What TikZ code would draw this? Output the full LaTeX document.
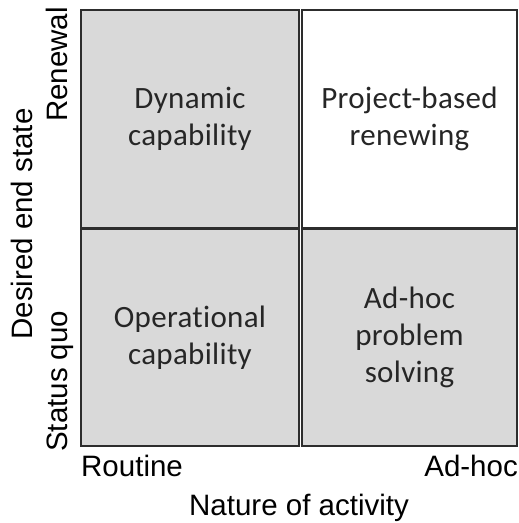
\documentclass[tikz,border=0pt]{standalone}
\usepackage{fontspec}
\setmainfont[Ligatures=NoCommon,LetterSpace=1]{Carlito}
\newfontfamily\axisfont{Liberation Sans}
\usepackage{xcolor}
\definecolor{ColFill}{RGB}{217,217,217}
\definecolor{ColLine}{RGB}{45,45,45}
\definecolor{ColText}{RGB}{38,38,38}
\usetikzlibrary{positioning}
\tikzstyle{Cell}=[draw=ColLine,fill=ColFill,line width=1.6pt,inner sep=0pt,
align=center,text=ColText,font=\fontsize{31}{37}\selectfont]
\tikzstyle{CellBlank}=[Cell,fill=white]
\tikzstyle{Axis}=[inner sep=0pt,font=\axisfont\fontsize{29.5}{35}\selectfont]

\begin{document}
\begin{tikzpicture}[x=1pt,y=-1pt]
        \useasboundingbox(0,0)rectangle(519,523);
        \node[Cell,minimum width=218pt,minimum height=218pt](dyn)at(190,119)
            {Dynamic\\capability};
        \node[CellBlank,minimum width=215pt,minimum height=218pt](proj)at(409.5,119)
            {Project-based\\renewing};
        \node[Cell,minimum width=218pt,minimum height=217pt](oper)at(190,337.5)
            {Operational\\capability};
        \node[Cell,minimum width=215pt,minimum height=217pt](adhoc)at(409.5,337.5)
            {Ad-hoc\\problem\\solving};
        % axis labels
        \node[Axis,anchor=base west](routine)at(81,476){Routine};
        \node[Axis,anchor=base east](adhocx)at(518,476){Ad-hoc};
        \node[Axis,anchor=base](nature)at(299,515){Nature of activity};
        \node[Axis,anchor=base,rotate=90](desired)at(32,224){Desired end state};
        \node[Axis,anchor=base east,rotate=90](renewal)at(67,7){Renewal};
        \node[Axis,anchor=base west,rotate=90](statusquo)at(67,452){Status quo};
    \end{tikzpicture}
\end{document}
